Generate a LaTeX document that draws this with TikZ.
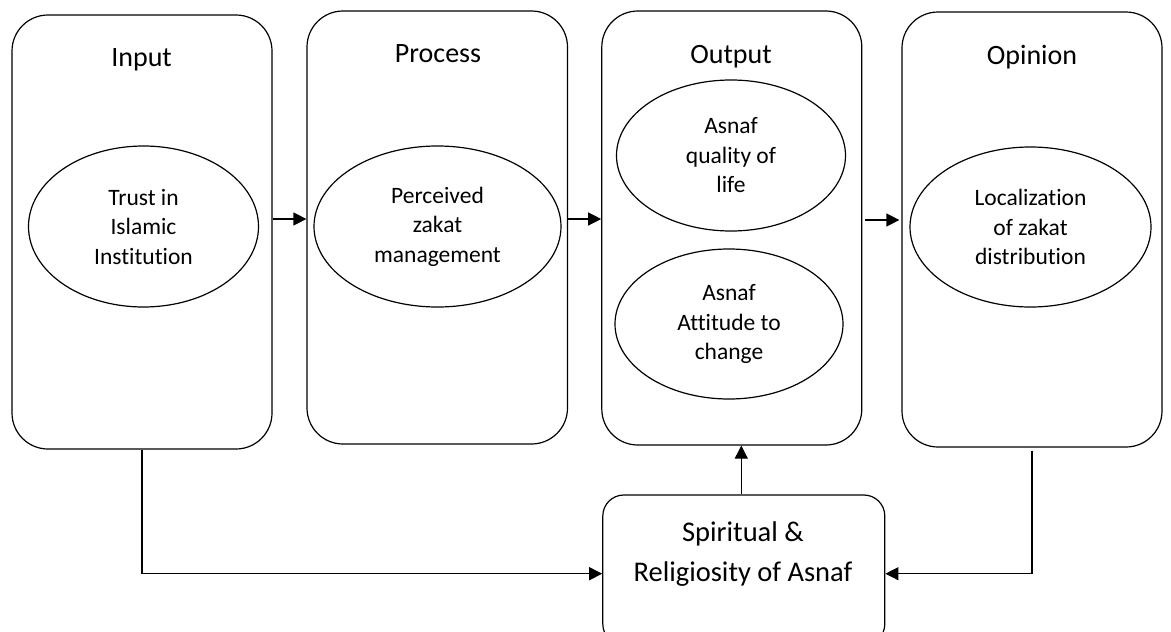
\documentclass[tikz,border=0pt]{standalone}
\usepackage{fontspec}
\setmainfont{Carlito}[Ligatures=NoCommon]
\usetikzlibrary{arrows.meta,shapes.geometric}
\begin{document}
\begin{tikzpicture}[x=1pt,y=-1pt,
  panel/.style={draw, rounded corners=36pt, line width=1.2pt, minimum width=260pt, inner sep=0pt},
  oval/.style={draw, ellipse, line width=1.2pt, align=center, inner sep=0pt, font=\fontsize{23.5}{29.5}\selectfont},
  title/.style={anchor=base, inner sep=0pt, font=\fontsize{28}{34}\selectfont},
  stext/.style={anchor=base, inner sep=0pt, font=\fontsize{28.5}{40}\selectfont},
  arr/.style={-{Triangle[length=13pt,width=13pt]}, line width=1.2pt}]
\useasboundingbox (0,0) rectangle (1171,632);
\clip (0,0) rectangle (1171,632);
% panels
\node[panel, minimum height=434pt] (input) at (142,232) {};
\node[panel, minimum width=260.5pt, minimum height=433pt] (process) at (437.25,227.5) {};
\node[panel, minimum height=434pt] (output) at (731.8,228) {};
\node[panel, minimum height=435pt] (opinion) at (1032,229.5) {};
\node[draw, rounded corners=21pt, line width=1.2pt, minimum width=282pt, minimum height=150pt, inner sep=0pt] (spirit) at (743.8,570) {};
% titles
\node[title] (tin) at (141.6,66) {Input};
\node[title] (tpr) at (438,62) {Process};
\node[title] (tou) at (731,63) {Output};
\node[title] (top) at (1032,64) {Opinion};
% ellipses
\node[oval, minimum width=230pt, minimum height=161pt] (trust) at (143.5,226.5) {Trust in\\Islamic\\Institution};
\node[oval, minimum width=247pt, minimum height=161pt] (zakat) at (437.5,226.5) {Perceived\\zakat\\management};
\node[oval, minimum width=229pt, minimum height=151pt] (quality) at (731,155.5) {Asnaf\\quality of\\life};
\node[oval, minimum width=228pt, minimum height=150pt] (attitude) at (729,324) {Asnaf\\Attitude to\\change};
\node[oval, minimum width=241pt, minimum height=160pt] (local) at (1030.5,227) {Localization\\of zakat\\distribution};
% spiritual text
\node[stext] (sp1) at (743,541.7) {Spiritual \&};
\node[stext] (sp2) at (743,581.7) {Religiosity of Asnaf};
% connectors
\draw[arr] (input.east |- 0,219) -- (process.west |- 0,219);
\draw[arr] (process.east |- 0,219) -- (output.west |- 0,219);
\draw[arr, shorten <=3pt, shorten >=2pt] (output.east |- 0,220) -- (opinion.west |- 0,220);
\draw[arr] (input.south) |- (spirit.west |- 0,573.7);
\draw[arr] ([yshift=-3pt]opinion.south) |- (spirit.east |- 0,573.7);
\draw[arr] ([xshift=-2.5pt]spirit.north) -- ([xshift=-2.5pt]spirit.north |- output.south);
\end{tikzpicture}
\end{document}
